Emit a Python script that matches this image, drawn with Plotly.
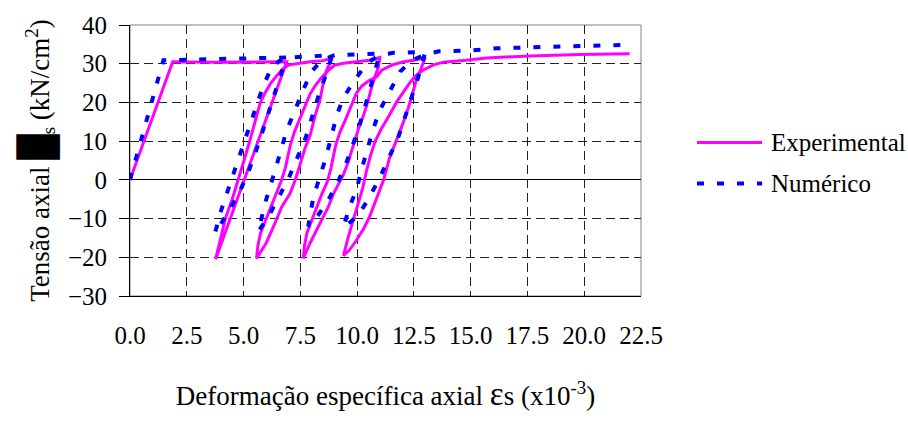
import plotly.graph_objects as go

# Experimental cyclic stress-strain curve (strain x10^-3, stress kN/cm2)
exp_strain = [
    0.0, 1.88, 3.5, 5.0, 6.2, 6.9,
    3.77,
    4.2, 4.5, 4.77, 5.02, 5.27, 5.5, 5.74, 5.95, 6.2, 6.46, 6.75, 7.0, 7.4, 7.93, 8.5, 8.9,
    8.66, 8.51, 8.37, 8.15, 7.93, 7.71, 7.49, 7.26, 7.04, 6.68, 6.38, 6.0, 5.57,
    5.63, 5.75, 5.98, 6.22, 6.45, 6.68, 6.84, 7.06, 7.24, 7.45, 7.66, 7.93, 8.15, 8.42, 8.72,
    9.0, 9.4, 10.0, 10.55, 11.0,
    10.94, 10.79, 10.65, 10.5, 10.28, 10.06, 9.84, 9.62, 9.4, 9.18, 8.96, 8.73, 8.51, 8.22,
    7.93, 7.63,
    7.68, 7.79, 8.0, 8.22, 8.45, 8.7, 8.85, 9.06, 9.25, 9.47, 9.69, 9.98, 10.2, 10.5, 10.87,
    11.1, 11.55, 12.05, 12.5, 13.0,
    12.8, 12.62, 12.45, 12.25, 11.98, 11.7, 11.42, 11.17, 10.98, 10.75, 10.55, 10.3, 9.95,
    9.65, 9.4,
    9.6, 9.85, 10.05, 10.25, 10.4, 10.6, 10.8, 11.05, 11.4, 11.75, 12.05, 12.35, 12.6, 12.92,
    13.36, 13.8, 14.8, 15.7, 17.6, 19.8, 22.0,
]
exp_stress = [
    0.0, 30.5, 30.4, 30.4, 30.4, 30.5,
    -20.5,
    -10.0, -5.0, 0.0, 5.0, 10.0, 15.0, 20.0, 22.5, 25.0, 26.9, 28.8, 29.7, 30.1, 30.5, 30.8, 31.4,
    28.4, 25.0, 20.8, 16.6, 11.5, 8.2, 4.0, -0.3, -3.6, -7.0, -11.2, -16.3, -20.3,
    -17.1, -13.7, -10.4, -7.0, -3.6, 0.0, 3.1, 9.0, 12.4, 15.3, 18.3, 22.2, 24.3, 26.3, 28.2,
    29.6, 30.1, 30.5, 30.9, 31.6,
    29.2, 26.7, 24.2, 20.8, 16.6, 13.2, 9.0, 4.8, 1.4, -1.1, -3.6, -7.0, -9.5, -12.9,
    -16.3, -20.3,
    -17.1, -13.7, -10.4, -7.0, -3.6, -0.3, 3.1, 9.0, 12.4, 15.3, 18.3, 22.5, 24.2, 25.5, 26.7,
    28.4, 29.7, 30.5, 30.9, 31.6,
    28.5, 26.0, 22.5, 18.5, 14.0, 10.0, 5.5, 0.0, -3.0, -6.5, -9.5, -12.5, -15.8,
    -18.2, -19.6,
    -15.0, -10.0, -6.0, -2.0, 2.0, 6.5, 10.0, 13.0, 16.5, 20.2, 22.8, 25.3, 27.0, 28.4,
    29.7, 30.4, 30.9, 31.5, 32.0, 32.4, 32.6,
]

# Numerical model response
num_strain = [
    0.0, 1.47, 3.0, 5.0, 6.9,
    6.6, 6.2, 5.7, 5.15, 4.7, 4.2, 3.74,
    4.04, 4.35, 4.62, 4.95, 5.3, 5.6, 5.85, 6.24, 6.7, 7.3, 8.2, 8.9,
    8.6, 8.3, 7.75, 7.0, 6.5, 6.05, 5.65,
    5.95, 6.38, 6.9, 7.26, 7.63, 8.0, 8.44, 9.0, 9.6, 10.3, 11.0,
    10.75, 10.5, 10.05, 9.5, 9.2, 8.8, 8.3, 7.85,
    8.07, 8.44, 8.62, 8.88, 9.1, 9.39, 9.91, 10.43, 11.0, 11.6, 12.3, 13.0,
    12.7, 12.41, 11.82, 11.0, 10.5, 10.0, 9.39,
    9.69, 9.98, 10.2, 10.45, 10.7, 11.0, 11.46, 11.9, 12.4, 13.0, 13.6, 15.0, 16.2, 18.0,
    20.0, 22.0,
]
num_stress = [
    0.0, 30.9, 31.1, 31.3, 31.6,
    26.5, 19.0, 10.0, 1.0, -4.5, -9.5, -13.8,
    -7.4, -2.0, 2.7, 8.6, 14.5, 20.0, 24.0, 29.2, 31.2, 31.7, 32.0, 32.2,
    26.7, 21.7, 11.1, 0.6, -5.0, -10.0, -13.3,
    -6.0, 2.3, 12.8, 17.9, 23.3, 28.0, 30.9, 32.2, 32.4, 32.5, 32.6,
    27.0, 22.0, 13.0, 4.0, 0.0, -4.5, -9.0, -12.0,
    -4.5, 1.8, 5.6, 11.5, 16.6, 21.2, 25.9, 30.1, 32.3, 32.8, 32.9, 33.0,
    26.7, 21.7, 11.1, 0.6, -5.0, -9.5, -12.3,
    -6.6, -2.4, 2.7, 8.2, 13.0, 18.0, 23.3, 28.0, 30.8, 32.4, 33.2, 33.4, 34.0, 34.3,
    34.6, 34.9,
]

x_ticks = [0.0, 2.5, 5.0, 7.5, 10.0, 12.5, 15.0, 17.5, 20.0, 22.5]
y_ticks = [-30, -20, -10, 0, 10, 20, 30, 40]

series_names = ["Experimental", "Numérico"]
series_colors = ["#FF00FF", "#0000FF"]

FONT = "Liberation Serif"

fig = go.Figure()
fig.add_trace(go.Scatter(
    x=exp_strain, y=exp_stress, mode="lines", name=series_names[0],
    line=dict(color=series_colors[0], width=3), showlegend=False,
))
fig.add_trace(go.Scatter(
    x=num_strain, y=num_stress, mode="lines", name=series_names[1],
    line=dict(color=series_colors[1], width=4, dash="7px,13px"), showlegend=False,
))

grid_dash = "9px,5px"
fig.update_xaxes(
    range=[0, 22.5], tickvals=x_ticks, ticktext=[f"{v:.1f}" for v in x_ticks],
    showgrid=True, gridcolor="#222222", gridwidth=1, griddash=grid_dash,
    zeroline=False, showline=True, linecolor="black", linewidth=1,
    ticks="", ticklabelstandoff=17,
    tickfont=dict(family=FONT, size=25, color="black"),
    title=dict(
        text="Deformação específica axial <span style='font-size:33px'>ε</span>s (x10<sup>-3</sup>)",
        font=dict(family=FONT, size=27, color="black"), standoff=38,
    ),
)
fig.update_yaxes(
    range=[-30, 40], tickvals=y_ticks,
    showgrid=True, gridcolor="#222222", gridwidth=1, griddash=grid_dash,
    zeroline=True, zerolinecolor="black", zerolinewidth=1,
    showline=True, linecolor="black", linewidth=1,
    ticks="outside", ticklen=10, tickcolor="black", ticklabelstandoff=7,
    tickfont=dict(family=FONT, size=25, color="black"),
    title=dict(
        text="Tensão axial <span style='font-size:36px'>█</span><sub>s</sub> (kN/cm<sup>2</sup>)",
        font=dict(family=FONT, size=27, color="black"), standoff=10,
    ),
)

# plot-area frame
fig.add_shape(type="rect", xref="x domain", yref="y domain", x0=0, x1=1, y0=0, y1=1,
              line=dict(color="#808080", width=1), layer="below")

# legend drawn beside the plot area
legend_rows = [(0.5668, dict(color=series_colors[0], width=3)),
               (0.4152, dict(color=series_colors[1], width=4, dash="7px,13px"))]
for name, (ypos, ln) in zip(series_names, legend_rows):
    fig.add_shape(type="line", xref="paper", yref="paper",
                  x0=1.1096, x1=1.237, y0=ypos, y1=ypos, line=ln)
    fig.add_annotation(xref="paper", yref="paper", x=1.2505, y=ypos, text=name,
                       showarrow=False, xanchor="left", yanchor="middle",
                       font=dict(family=FONT, size=25, color="black"))

fig.update_layout(
    width=908, height=421,
    margin=dict(l=130, r=267, t=19, b=125),
    paper_bgcolor="white", plot_bgcolor="white",
    showlegend=False,
)

fig.write_html("out.html")
